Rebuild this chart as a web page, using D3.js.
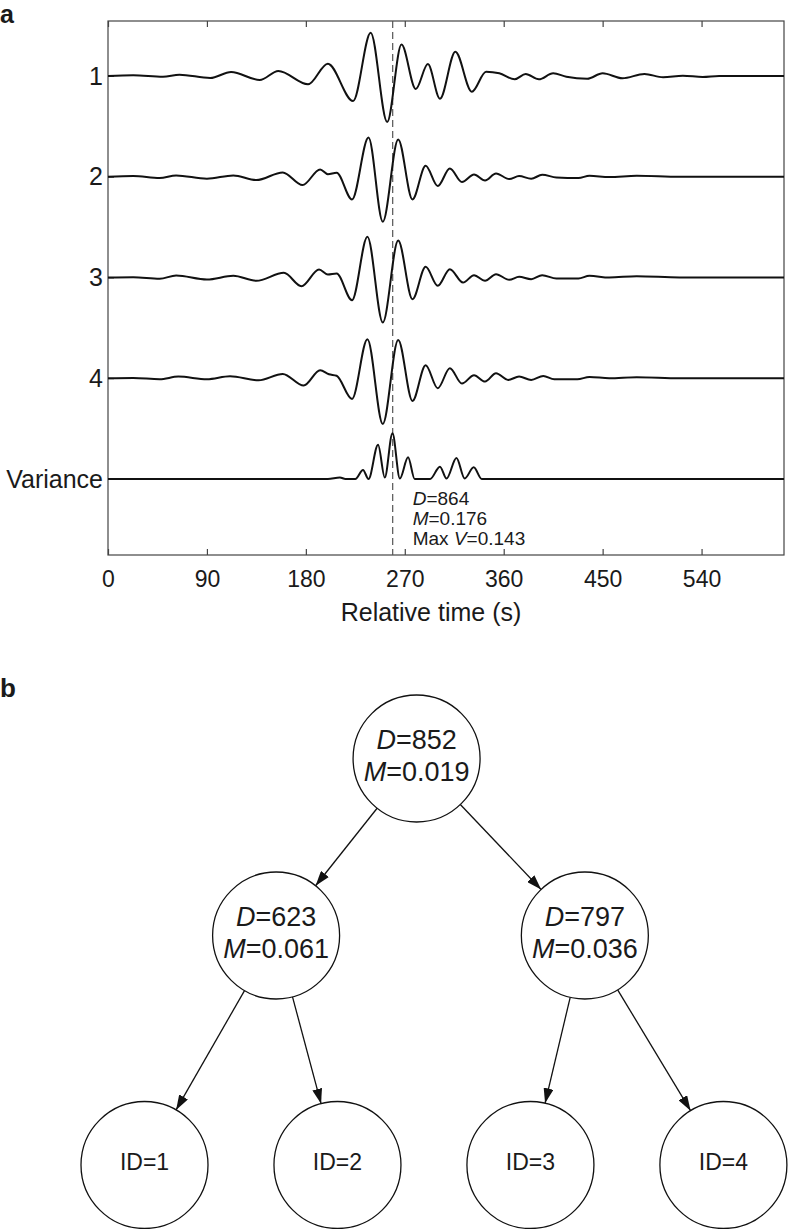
<!DOCTYPE html>
<html>
<head>
<meta charset="utf-8">
<script src="https://cdn.jsdelivr.net/npm/d3@7"></script>
<style>
  body { margin: 0; background: #fff; }
  text { font-family: "Liberation Sans", Arial, Helvetica, sans-serif; fill: #1a1a1a; }
</style>
</head>
<body>
<svg id="fig" width="788" height="1229"></svg>
<script>
// ---- DATA ----

// rows of panel a
var rowLabels = ["1", "2", "3", "4", "Variance"];

// waveforms: time (s) and amplitude (arbitrary units) at the wiggles
var trace1T = [0, 23, 50, 65, 93, 112, 138, 155, 182, 200, 223, 239, 254, 267, 280, 291, 302, 316, 331, 344, 356, 370, 380, 392, 405, 417, 436, 450, 468, 488, 505, 523, 541, 556, 615];
var trace1A = [0, 0.7, -0.7, 1.3, -2, 4, -4, 5, -8.3, 12.3, -25, 43.3, -46, 31.5, -13, 12, -22.7, 24.3, -15.7, 4.3, 2.7, -3.3, 2, -3.3, 2.7, -0.7, -2.7, 2.7, -2.3, 2, -1.3, 0.3, -1, 0, 0];

var trace2T = [0, 23, 47, 62, 90, 114, 135, 159, 177, 193, 200, 208, 222, 237, 250, 264, 277, 289, 300, 311, 322, 333, 343, 353, 365, 374, 385, 395, 408, 428, 438, 456, 481, 520, 615];
var trace2A = [0, 0.7, -1.3, 1.3, -2, 1.3, -3.3, 4.3, -8.3, 7.3, 2.5, 4, -22.7, 39.3, -45, 37.3, -22.7, 11, -9.3, 8.3, -5.3, 2.3, -3.7, 3.3, -2.3, 0.7, -2, 2, -0.7, -1.3, 1, -0.3, 1, 0, 0];

var trace3T = [0, 23, 47, 62, 90, 114, 135, 160, 176, 192, 200, 208, 222, 236, 250, 264, 277, 289, 300, 311, 323, 333, 343, 353, 365, 374, 385, 395, 408, 428, 438, 456, 481, 520, 615];
var trace3A = [0, 0.3, -1.3, 2, -2, 1.7, -3.3, 4.7, -8.7, 8, 3, 4, -22.7, 40.7, -45, 37, -21.7, 10.7, -8.3, 8.3, -5, 2.3, -3.3, 3.3, -2.3, 0.7, -1.7, 2.3, -1, -1, 1.7, 0, 1.3, 0, 0];

var trace4T = [0, 23, 47, 64, 90, 111, 137, 159, 178, 193, 201, 208, 222, 236, 250, 264, 277, 289, 300, 311, 322, 333, 343, 353, 364, 374, 385, 396, 406, 427, 438, 456, 481, 520, 615];
var trace4A = [0, 0.3, -1, 1.7, -1, 2, -2, 4.3, -7.3, 8, 4, 2.5, -20.7, 39, -45.7, 38.3, -22.7, 13, -10, 10, -5.3, 3, -3.3, 5, -1.7, 1.7, -1.7, 2.3, -1, -1, 1.3, 0, 1, 0, 0];

var varianceT = [0, 200, 211, 216, 225, 232, 237, 245.7, 251.8, 258.8, 265.5, 273, 279, 293, 302, 308, 317, 324.5, 332.7, 340, 615];
var varianceA = [0, 0, 1.5, 0, 0, 9, 0, 34.3, 1.5, 45.7, 0.5, 21.7, 0, 0, 12.3, 0.5, 21, 0.5, 11.7, 0, 0];

var xTicks = [0, 90, 180, 270, 360, 450, 540];
var timeMax = 615;
var pickTime = 259;          // dashed line

// stats of the stacked group
var groupD = 864;
var groupM = 0.176;
var groupMaxV = 0.143;

// panel b: clustering tree
var clusterD = [852, 623, 797];
var clusterM = [0.019, 0.061, 0.036];
var leafIds = [1, 2, 3, 4];

// ---- PANEL A ----

var svg = d3.select("#fig");

// note: "top" is taken by window.top, so the box edges get their own names
var boxL = 108, boxR = 784, boxT = 21, boxB = 555;

var x = d3.scaleLinear().domain([0, timeMax]).range([boxL, boxR]);
var yRow = d3.scalePoint().domain(rowLabels).range([76, 479]);
var amp = d3.scaleLinear().domain([-50, 50]).range([50, -50]);

var series = [
  {name: "1", t: trace1T, a: trace1A},
  {name: "2", t: trace2T, a: trace2A},
  {name: "3", t: trace3T, a: trace3A},
  {name: "4", t: trace4T, a: trace4A},
  {name: "Variance", t: varianceT, a: varianceA}
];

svg.append("text")
   .attr("x", 0).attr("y", 23)
   .style("font-size", "25px").style("font-weight", "bold")
   .text("a");

// box
svg.append("rect")
   .attr("x", boxL).attr("y", boxT)
   .attr("width", boxR - boxL).attr("height", boxB - boxT)
   .attr("fill", "none").attr("stroke", "#444").attr("stroke-width", 1.2);

// bottom axis, ticks inward
var xAxis = svg.append("g")
   .attr("transform", "translate(0," + boxB + ")")
   .call(d3.axisBottom(x).tickValues(xTicks).tickSizeInner(-6).tickSizeOuter(0).tickPadding(16));
xAxis.select(".domain").remove();
xAxis.selectAll("line").attr("stroke", "#444").attr("stroke-width", 1.2);
xAxis.selectAll("text").style("font-size", "23px").attr("fill", "#1a1a1a")
     .style("font-family", "'Liberation Sans', Arial, sans-serif");

// top axis, ticks only
var xTop = svg.append("g")
   .attr("transform", "translate(0," + boxT + ")")
   .call(d3.axisTop(x).tickValues(xTicks).tickSizeInner(-6).tickSizeOuter(0).tickFormat(""));
xTop.select(".domain").remove();
xTop.selectAll("line").attr("stroke", "#444").attr("stroke-width", 1.2);

// left axis with row names
var yAxis = svg.append("g")
   .attr("transform", "translate(" + boxL + ",0)")
   .call(d3.axisLeft(yRow).tickSizeInner(-6).tickSizeOuter(0).tickPadding(5));
yAxis.select(".domain").remove();
yAxis.selectAll("line").attr("stroke", "#444");
yAxis.selectAll("text").style("font-size", "25px").attr("fill", "#1a1a1a")
     .style("font-family", "'Liberation Sans', Arial, sans-serif");

svg.append("text")
   .attr("x", 431).attr("y", 621)
   .attr("text-anchor", "middle")
   .style("font-size", "25px")
   .text("Relative time (s)");

// dashed pick line
svg.append("line")
   .attr("x1", x(pickTime)).attr("x2", x(pickTime))
   .attr("y1", boxT).attr("y2", boxB)
   .attr("stroke", "#555").attr("stroke-width", 1.2)
   .attr("stroke-dasharray", "7,4");

// traces
var line = d3.line()
   .x(function(d){ return x(d.t); })
   .y(function(d){ return d.y; })
   .curve(d3.curveMonotoneX);

series.forEach(function(s){
  var pts = s.t.map(function(t, i){ return {t: t, y: yRow(s.name) + amp(s.a[i])}; });
  svg.append("path")
     .datum(pts)
     .attr("d", line)
     .attr("fill", "none")
     .attr("stroke", "#111")
     .attr("stroke-width", 2)
     .attr("stroke-linejoin", "round");
});

// stats text under the variance trace
var stats = [
  {k: "D", pre: "", v: groupD},
  {k: "M", pre: "", v: groupM.toFixed(3)},
  {k: "V", pre: "Max ", v: groupMaxV.toFixed(3)}
];
stats.forEach(function(s, i){
  var t = svg.append("text")
     .attr("x", x(pickTime) + 20).attr("y", 505 + i * 20)
     .style("font-size", "19px");
  if(s.pre) t.append("tspan").text(s.pre);
  t.append("tspan").style("font-style", "italic").text(s.k);
  t.append("tspan").text("=" + s.v);
});

// ---- PANEL B ----

svg.append("text")
   .attr("x", 0).attr("y", 697)
   .style("font-size", "26px").style("font-weight", "bold")
   .text("b");

var treeData = {
  D: clusterD[0], M: clusterM[0],
  children: [
    {D: clusterD[1], M: clusterM[1], children: [{id: leafIds[0]}, {id: leafIds[1]}]},
    {D: clusterD[2], M: clusterM[2], children: [{id: leafIds[2]}, {id: leafIds[3]}]}
  ]
};

var root = d3.hierarchy(treeData);
d3.tree().nodeSize([1, 1]).separation(function(){ return 1; })(root);

// the drawn tree is not quite symmetric: root sits a little left,
// inner nodes are pulled in toward it
root.x -= 0.09;
root.children.forEach(function(d){
  d.x += (d.parent.x - d.x) * 0.2;
});

var tx = d3.scaleLinear().domain([-1.5, 1.5]).range([144.5, 723.4]);
var ty = d3.scaleLinear().domain([0, 1, 2]).range([758.5, 935.5, 1165]);
var rad = 63.5;

var defs = svg.append("defs");
defs.append("marker")
    .attr("id", "arrow")
    .attr("markerUnits", "userSpaceOnUse")
    .attr("markerWidth", 15).attr("markerHeight", 10)
    .attr("refX", 15).attr("refY", 5)
    .attr("orient", "auto")
  .append("path")
    .attr("d", "M0,0L15,5L0,10Z")
    .attr("fill", "#111");

svg.append("g").selectAll("line")
   .data(root.links())
   .enter().append("line")
   .each(function(l){
     var x1 = tx(l.source.x), y1 = ty(l.source.depth);
     var x2 = tx(l.target.x), y2 = ty(l.target.depth);
     var len = Math.hypot(x2 - x1, y2 - y1);
     var ux = (x2 - x1) / len, uy = (y2 - y1) / len;
     d3.select(this)
       .attr("x1", x1 + ux * rad).attr("y1", y1 + uy * rad)
       .attr("x2", x2 - ux * rad).attr("y2", y2 - uy * rad);
   })
   .attr("stroke", "#111").attr("stroke-width", 1.3)
   .attr("marker-end", "url(#arrow)");

var node = svg.append("g").selectAll("g")
   .data(root.descendants())
   .enter().append("g")
   .attr("transform", function(d){ return "translate(" + tx(d.x) + "," + ty(d.depth) + ")"; });

node.append("circle")
    .attr("r", rad)
    .attr("fill", "#fff")
    .attr("stroke", "#111").attr("stroke-width", 1.3);

node.filter(function(d){ return d.children; }).each(function(d){
  var g = d3.select(this);
  var t1 = g.append("text").attr("text-anchor", "middle").attr("y", -10).style("font-size", "27px");
  t1.append("tspan").style("font-style", "italic").text("D");
  t1.append("tspan").text("=" + d.data.D);
  var t2 = g.append("text").attr("text-anchor", "middle").attr("y", 22).style("font-size", "27px");
  t2.append("tspan").style("font-style", "italic").text("M");
  t2.append("tspan").text("=" + d.data.M.toFixed(3));
});

node.filter(function(d){ return !d.children; })
    .append("text")
    .attr("text-anchor", "middle")
    .attr("y", 5)
    .style("font-size", "23px")
    .text(function(d){ return "ID=" + d.data.id; });
</script>
</body>
</html>
